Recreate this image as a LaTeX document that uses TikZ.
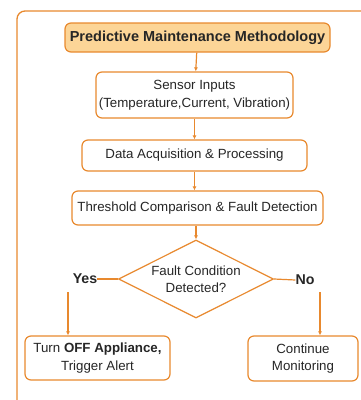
\documentclass[tikz,border=0pt]{standalone}
\usepackage{fontspec}
\setmainfont{Liberation Sans}
\usetikzlibrary{shapes.geometric, arrows.meta}

\definecolor{flow}{HTML}{E8892E}
\definecolor{flowfill}{HTML}{FCD597}
\definecolor{ink}{HTML}{262626}

\begin{document}
\begin{tikzpicture}[
  x=1pt, y=-1pt,
  every node/.style={inner sep=1pt, text=ink, font=\fontsize{13.3}{17.5}\selectfont},
  box/.style={draw=flow, line width=1.2pt, rounded corners=6pt, fill=white, align=center},
  titlebox/.style={box, fill=flowfill, font=\bfseries\fontsize{14.5}{17}\selectfont},
  decide/.style={diamond, draw=flow, line width=1.2pt, aspect=2, inner sep=0pt, align=center},
  lbl/.style={inner sep=0pt, font=\bfseries\fontsize{14.2}{17}\selectfont},
  edge/.style={draw=flow, line width=1.2pt},
  arrow/.style={draw=flow, line width=1.2pt, -{Latex[length=4pt,width=4pt]}}]

  \useasboundingbox (0,0) rectangle (361,400);

  % --- outer frame, runs past the right and bottom edges ---
  \begin{scope}
    \clip (0,0) rectangle (361,400);
    \draw[flow, line width=1.3pt, rounded corners=8pt] (17,11) rectangle (420,440);
  \end{scope}

  % --- the chain of steps ---
  \node[titlebox, minimum width=265, minimum height=29] (title) at (197.5,37.5) {Predictive Maintenance Methodology};
  \node[box, minimum width=197, minimum height=46] (sensor) at (194.5,95) {Sensor Inputs\\(Temperature,Current, Vibration)};
  \node[box, minimum width=225, minimum height=31] (acq) at (194.5,155.5) {Data Acquisition \& Processing};
  \node[box, minimum width=251, minimum height=34] (thresh) at (197.5,208) {Threshold Comparison \& Fault Detection};
  \node[decide, minimum width=155, minimum height=78] (fault) at (196,279) {Fault Condition\\Detected?};

  % --- the two outcomes ---
  \node[lbl] (yes) at (85,279) {Yes};
  \node[lbl] (no) at (305,280) {No};
  \node[box, minimum width=145, minimum height=44] (off) at (97.5,358) {Turn \textbf{OFF Appliance,}\\Trigger Alert};
  \node[box, minimum width=110, minimum height=45] (cont) at (303,358.5) {Continue\\Monitoring};

  \coordinate (yesdown) at (68,292);
  \coordinate (nodown) at (320,292);

  % --- connectors ---
  \draw[arrow] (title) -- (sensor);
  \draw[arrow] (sensor) -- (acq);
  \draw[arrow] (acq.south -| sensor) -- (thresh.north -| sensor);
  \draw[arrow] (thresh.south -| fault) -- (fault.north);
  \draw[edge] (fault.west) -- (yes.east);
  \draw[edge] (fault.east) -- (no.west);
  \draw[arrow] (yesdown) -- (yesdown |- off.north);
  \draw[arrow] (nodown) -- (nodown |- cont.north);

\end{tikzpicture}
\end{document}
